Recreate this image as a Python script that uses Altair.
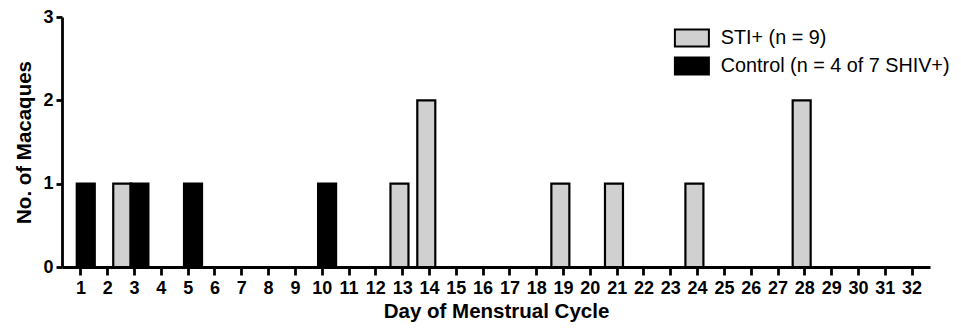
import altair as alt
import pandas as pd

# ---- data ----
sti_days = [3, 13, 14, 19, 21, 24, 28]
sti_counts = [1, 1, 2, 1, 1, 1, 2]
ctrl_days = [1, 3, 5, 10]
ctrl_counts = [1, 1, 1, 1]
group_labels = ["STI+ (n = 9)", "Control (n = 4 of 7 SHIV+)"]
x_ticks = list(range(1, 33))
y_ticks = [0, 1, 2, 3]

rows = [{"day": d, "count": c, "group": group_labels[0]} for d, c in zip(sti_days, sti_counts)]
rows += [{"day": d, "count": c, "group": group_labels[1]} for d, c in zip(ctrl_days, ctrl_counts)]
df = pd.DataFrame(rows)

FONT = "Liberation Sans"

bars = (
    alt.Chart(df)
    .transform_joinaggregate(n_groups="count()", groupby=["day"])
    .transform_calculate(
        xc="datum.group == 'STI+ (n = 9)' ? (datum.day - (datum.n_groups > 1 ? 0.44 : 0.1)) : (datum.day + 0.2)"
    )
    .mark_bar(width=18, stroke="black", strokeWidth=2.2)
    .encode(
        x=alt.X(
            "xc:Q",
            scale=alt.Scale(domain=[0.5, 32.5], nice=False, zero=False),
            axis=alt.Axis(values=x_ticks, format="d", title="Day of Menstrual Cycle"),
        ),
        y=alt.Y(
            "count:Q",
            scale=alt.Scale(domain=[0, 3], nice=False),
            axis=alt.Axis(values=y_ticks, format="d", title="No. of Macaques"),
        ),
        color=alt.Color(
            "group:N",
            scale=alt.Scale(domain=group_labels, range=["#d0d0d0", "#000000"]),
            legend=alt.Legend(
                title=None,
                orient="none",
                legendX=620,
                legendY=11,
                symbolType="M-2,-1H2V1H-2Z",
                symbolSize=289,
                symbolStrokeColor="black",
                symbolStrokeWidth=2,
                symbolOpacity=1,
                labelFont=FONT,
                labelFontSize=19.8,
                labelColor="black",
                labelOffset=19,
                rowPadding=2,
                padding=0,
                labelLimit=400,
            ),
        ),
    )
)

chart = (
    bars.properties(
        width=868,
        height=250,
        autosize=alt.AutoSizeParams(type="none"),
        padding={"left": 54, "top": 9, "right": 23, "bottom": 56},
    )
    .configure_view(stroke=None)
    .configure_axis(
        grid=False,
        domainColor="black",
        domainWidth=2.8,
        tickColor="black",
        tickWidth=2.8,
        labelFont=FONT,
        labelFontSize=18,
        labelFontWeight="bold",
        labelColor="black",
        titleFont=FONT,
        titleFontSize=20.5,
        titleFontWeight="bold",
        titleColor="black",
    )
    .configure_axisX(labelAngle=0, tickSize=8, labelPadding=4, titlePadding=4)
    .configure_axisY(tickSize=6, labelPadding=3, titlePadding=8)
)

chart.save("out.html", embed_options={"renderer": "svg", "actions": False})
